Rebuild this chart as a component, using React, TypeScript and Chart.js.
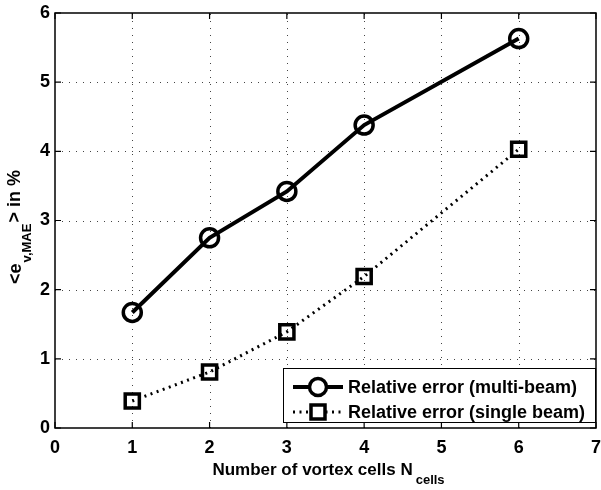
import React, { useEffect, useRef } from 'react';
import { Chart, registerables } from 'chart.js';

Chart.register(...registerables);

const cells = [1, 2, 3, 4, 6];
const multiBeam = [1.67, 2.75, 3.42, 4.38, 5.63];
const singleBeam = [0.39, 0.81, 1.39, 2.19, 4.03];
const seriesLabels = ['Relative error (multi-beam)', 'Relative error (single beam)'];
const xMin = 0, xMax = 7, yMin = 0, yMax = 6;
const xTitle = 'Number of vortex cells N';
const xTitleSub = 'cells';
const yTitleA = '<e';
const yTitleSub = 'v,MAE';
const yTitleB = '> in %';

const FONT = '"Liberation Sans", Arial, sans-serif';

const framePlugin = {
  id: 'matlabFrame',
  beforeDatasetsDraw(chart: any) {
    const { ctx, chartArea: a, scales } = chart;
    const xs = scales.x, ys = scales.y;
    ctx.save();
    ctx.strokeStyle = '#444';
    ctx.lineWidth = 1;
    ctx.setLineDash([1, 6]);
    xs.ticks.forEach((t: any) => {
      const px = Math.round(xs.getPixelForValue(t.value)) + 0.5;
      if (px <= a.left + 1 || px >= a.right - 1) return;
      ctx.beginPath(); ctx.moveTo(px, a.bottom); ctx.lineTo(px, a.top); ctx.stroke();
    });
    ys.ticks.forEach((t: any) => {
      const py = Math.round(ys.getPixelForValue(t.value)) + 0.5;
      if (py <= a.top + 1 || py >= a.bottom - 1) return;
      ctx.beginPath(); ctx.moveTo(a.left, py); ctx.lineTo(a.right, py); ctx.stroke();
    });
    ctx.setLineDash([]);
    ctx.strokeStyle = '#000';
    ctx.lineWidth = 1.5;
    ctx.strokeRect(a.left, a.top, a.right - a.left, a.bottom - a.top);
    const tl = 6;
    ctx.lineWidth = 1.2;
    xs.ticks.forEach((t: any) => {
      const px = xs.getPixelForValue(t.value);
      ctx.beginPath();
      ctx.moveTo(px, a.bottom); ctx.lineTo(px, a.bottom - tl);
      ctx.moveTo(px, a.top); ctx.lineTo(px, a.top + tl);
      ctx.stroke();
    });
    ys.ticks.forEach((t: any) => {
      const py = ys.getPixelForValue(t.value);
      ctx.beginPath();
      ctx.moveTo(a.left, py); ctx.lineTo(a.left + tl, py);
      ctx.moveTo(a.right, py); ctx.lineTo(a.right - tl, py);
      ctx.stroke();
    });
    ctx.restore();
  },
  afterDraw(chart: any) {
    const { ctx } = chart;
    ctx.save();
    ctx.fillStyle = '#000';
    ctx.textBaseline = 'alphabetic';
    ctx.textAlign = 'left';
    // x title
    const xMainF = `bold 17px ${FONT}`;
    const subF = `bold 13px ${FONT}`;
    ctx.font = xMainF;
    const w1 = ctx.measureText(xTitle).width;
    ctx.font = subF;
    const w2 = ctx.measureText(xTitleSub).width;
    const cx = 327;
    const sx = cx - (w1 + w2) / 2;
    ctx.font = xMainF;
    ctx.fillText(xTitle, sx, 475);
    ctx.font = subF;
    ctx.fillText(xTitleSub, sx + w1 + 3, 484);
    // y title
    const yMainF = `bold 18px ${FONT}`;
    ctx.save();
    ctx.translate(21, 227);
    ctx.rotate(-Math.PI / 2);
    ctx.font = yMainF;
    const a1 = ctx.measureText(yTitleA).width;
    const a3 = ctx.measureText(yTitleB).width;
    ctx.font = subF;
    const a2 = ctx.measureText(yTitleSub).width;
    const lx = -(a1 + a2 + a3 + 2) / 2;
    ctx.font = yMainF;
    ctx.fillText(yTitleA, lx, 0);
    ctx.font = subF;
    ctx.fillText(yTitleSub, lx + a1 + 1, 10);
    ctx.font = yMainF;
    ctx.fillText(yTitleB, lx + a1 + a2 + 2, -1);
    ctx.restore();
    // legend
    const L = 283, T = 368, R = 595, B = 422;
    ctx.fillStyle = '#fff';
    ctx.fillRect(L, T, R - L, B - T);
    ctx.strokeStyle = '#000';
    ctx.lineWidth = 1;
    ctx.strokeRect(L + 0.5, T + 0.5, R - L, B - T);
    const rows = [387, 412];
    const x0 = 293, x1 = 343, xm = 318;
    ctx.lineWidth = 4;
    ctx.beginPath(); ctx.moveTo(x0, rows[0]); ctx.lineTo(x1, rows[0]); ctx.stroke();
    ctx.lineWidth = 3.5;
    ctx.beginPath(); ctx.arc(xm, rows[0], 8.5, 0, Math.PI * 2);
    ctx.fillStyle = '#fff'; ctx.fill(); ctx.stroke();
    ctx.lineWidth = 3;
    ctx.setLineDash([2, 4.5]);
    ctx.beginPath(); ctx.moveTo(x0, rows[1]); ctx.lineTo(x1, rows[1]); ctx.stroke();
    ctx.setLineDash([]);
    ctx.lineWidth = 3.5;
    ctx.fillRect(xm - 7, rows[1] - 7, 14, 14);
    ctx.strokeRect(xm - 7, rows[1] - 7, 14, 14);
    ctx.fillStyle = '#000';
    ctx.font = `bold 18px ${FONT}`;
    ctx.textBaseline = 'middle';
    ctx.fillText(seriesLabels[0], 348, rows[0] + 1);
    ctx.fillText(seriesLabels[1], 348, rows[1] + 1);
    ctx.restore();
  },
};

export default function App() {
  const ref = useRef<HTMLCanvasElement | null>(null);
  useEffect(() => {
    if (!ref.current) return;
    const tickFont = { family: FONT, size: 18, weight: 'bold' as const };
    const chart = new Chart(ref.current, {
      type: 'scatter',
      data: {
        datasets: [
          {
            label: seriesLabels[0],
            data: cells.map((c, i) => ({ x: c, y: multiBeam[i] })),
            showLine: true,
            borderColor: '#000',
            borderWidth: 4,
            pointStyle: 'circle',
            pointRadius: 9,
            pointBorderWidth: 3.5,
            pointBackgroundColor: 'rgba(0,0,0,0)',
            pointBorderColor: '#000',
          },
          {
            label: seriesLabels[1],
            data: cells.map((c, i) => ({ x: c, y: singleBeam[i] })),
            showLine: true,
            borderColor: '#000',
            borderWidth: 3,
            borderDash: [2, 4.5],
            pointStyle: 'rect',
            pointRadius: 10,
            pointBorderWidth: 3.5,
            pointBackgroundColor: 'rgba(0,0,0,0)',
            pointBorderColor: '#000',
          },
        ],
      },
      options: {
        animation: false,
        responsive: false,
        events: [],
        layout: { autoPadding: false, padding: { top: 13, right: 4, left: 0, bottom: 0 } },
        plugins: { legend: { display: false }, tooltip: { enabled: false }, title: { display: false } },
        scales: {
          x: {
            type: 'linear',
            min: xMin,
            max: xMax,
            grid: { display: false, drawTicks: true, tickLength: 9 },
            border: { display: false },
            ticks: { stepSize: 1, color: '#000', font: tickFont, padding: 0, maxRotation: 0 },
            afterFit: (s: any) => { s.height = 62; },
          },
          y: {
            type: 'linear',
            min: yMin,
            max: yMax,
            grid: { display: false, drawTicks: true, tickLength: 5 },
            border: { display: false },
            ticks: { stepSize: 1, color: '#000', font: tickFont, padding: 0 },
            afterFit: (s: any) => { s.width = 55; },
          },
        },
      },
      plugins: [framePlugin],
    });
    return () => chart.destroy();
  }, []);
  return (
    <div style={{ position: 'absolute', left: 0, top: 0, width: 601, height: 490, background: '#fff' }}>
      <canvas ref={ref} width={601} height={490} />
    </div>
  );
}
